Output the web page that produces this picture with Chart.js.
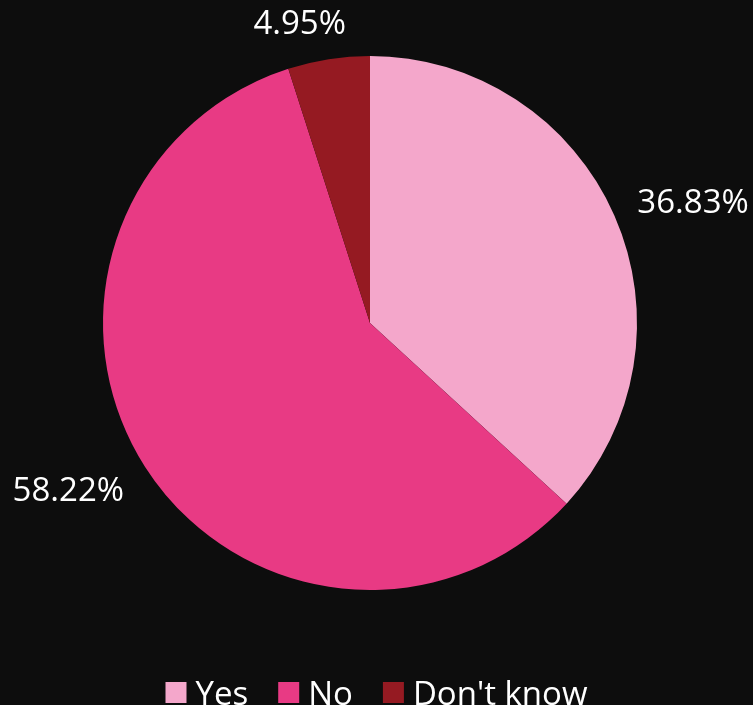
<!DOCTYPE html>
<html>
<head>
<meta charset="utf-8">
<script src="https://cdn.jsdelivr.net/npm/chart.js@4/dist/chart.umd.min.js"></script>
<style>
  html, body { margin: 0; padding: 0; background: #0d0d0d; overflow: hidden; }
  #wrap { width: 753px; height: 705px; }
</style>
</head>
<body>
<div id="wrap"><canvas id="c" width="753" height="705"></canvas></div>
<script>
const categories = ["Yes", "No", "Don't know"];
const shares = [36.83, 58.22, 4.95];
const sliceColors = ["#f4a7cb", "#e83a84", "#951a22"];

const FONT = "'Open Sans', 'Liberation Sans', sans-serif";
const TEXT_SIZE = 33;

// Percentage labels placed just outside each slice
const outsideLabels = {
  id: 'outsideLabels',
  afterDatasetsDraw(chart) {
    const ctx = chart.ctx;
    const meta = chart.getDatasetMeta(0);
    ctx.save();
    ctx.font = TEXT_SIZE + 'px ' + FONT;
    ctx.fillStyle = '#ffffff';
    ctx.textAlign = 'center';
    ctx.textBaseline = 'alphabetic';
    const capH = TEXT_SIZE * 0.72;
    meta.data.forEach((arc, i) => {
      const p = arc.getProps(['x', 'y', 'startAngle', 'endAngle', 'outerRadius'], true);
      const mid = (p.startAngle + p.endAngle) / 2;
      const dx = Math.cos(mid), dy = Math.sin(mid);
      const r = p.outerRadius + 25;
      const ax = p.x + dx * r, ay = p.y + dy * r;
      const text = shares[i].toFixed(2) + '%';
      const w = ctx.measureText(text).width;
      const h = 28;
      const k = Math.sign(dx) * Math.min(1, Math.abs(dx) * 3.5);
      const cx = ax + k * w / 2;
      const cy = ay + dy * h / 2 + 1.5;
      ctx.fillText(text, cx, cy + capH / 2);
    });
    ctx.restore();
  }
};

// Legend row along the bottom edge
const bottomLegend = {
  id: 'bottomLegend',
  afterDraw(chart) {
    const ctx = chart.ctx;
    ctx.save();
    ctx.font = TEXT_SIZE + 'px ' + FONT;
    ctx.textBaseline = 'alphabetic';
    ctx.textAlign = 'left';
    const box = 21, gapBoxText = 9, gapItems = 30;
    const widths = categories.map(t => box + gapBoxText + ctx.measureText(t).width);
    const total = widths.reduce((a, b) => a + b, 0) + gapItems * (categories.length - 1);
    let x = chart.width / 2 - total / 2;
    const boxTop = 682, baseline = 705;
    categories.forEach((t, i) => {
      ctx.fillStyle = sliceColors[i];
      ctx.fillRect(x, boxTop, box, box);
      ctx.fillStyle = '#ffffff';
      ctx.fillText(t, x + box + gapBoxText, baseline);
      x += widths[i] + gapItems;
    });
    ctx.restore();
  }
};

new Chart(document.getElementById('c'), {
  type: 'pie',
  data: {
    labels: categories,
    datasets: [{
      data: shares,
      backgroundColor: sliceColors,
      borderWidth: 0
    }]
  },
  options: {
    responsive: false,
    animation: false,
    layout: { padding: { top: 56, bottom: 115, left: 0, right: 13 } },
    plugins: {
      legend: { display: false },
      tooltip: { enabled: false }
    }
  },
  plugins: [outsideLabels, bottomLegend]
});
</script>
</body>
</html>
